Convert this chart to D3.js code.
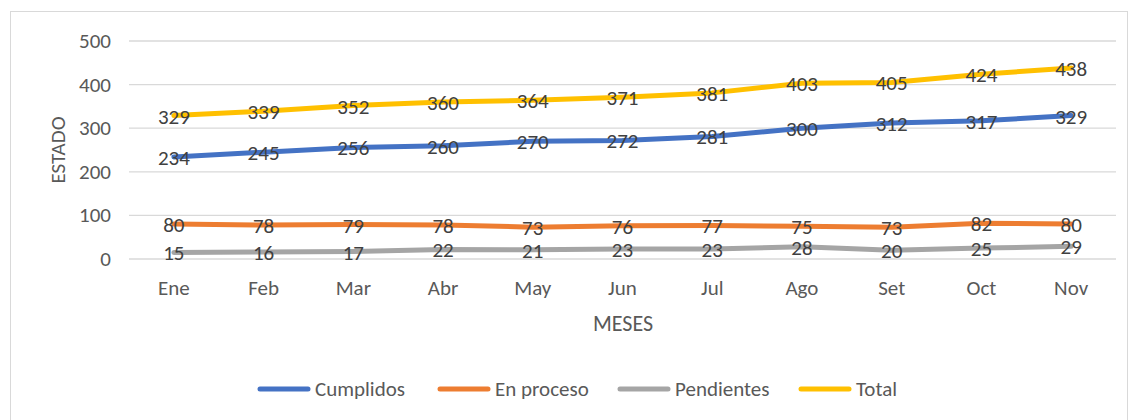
<!DOCTYPE html>
<html>
<head>
<meta charset="utf-8">
<script src="https://cdn.jsdelivr.net/npm/d3@7"></script>
<style>
  body { margin: 0; background: #fff; }
  svg { display: block; }
</style>
</head>
<body>
<script>
const meses = ["Ene", "Feb", "Mar", "Abr", "May", "Jun", "Jul", "Ago", "Set", "Oct", "Nov"];
const cumplidos = [234, 245, 256, 260, 270, 272, 281, 300, 312, 317, 329];
const enProceso = [80, 78, 79, 78, 73, 76, 77, 75, 73, 82, 80];
const pendientes = [15, 16, 17, 22, 21, 23, 23, 28, 20, 25, 29];
const total = [329, 339, 352, 360, 364, 371, 381, 403, 405, 424, 438];
const yTicks = [0, 100, 200, 300, 400, 500];

const series = [
  { name: "Cumplidos", values: cumplidos, color: "#4472C4" },
  { name: "En proceso", values: enProceso, color: "#ED7D31" },
  { name: "Pendientes", values: pendientes, color: "#A5A5A5" },
  { name: "Total", values: total, color: "#FFC000" },
];

const width = 1130;
const height = 420;
const font = "Carlito, Calibri, Lato, sans-serif";

const svg = d3
  .select("body")
  .append("svg")
  .attr("width", width)
  .attr("height", height);

svg
  .append("rect")
  .attr("x", 10.5)
  .attr("y", 11.5)
  .attr("width", 1117)
  .attr("height", 420)
  .attr("fill", "#fff")
  .attr("stroke", "#d9d9d9");

const xScale = d3.scaleBand().domain(meses).range([129, 1116]);
const yScale = d3.scaleLinear().domain([0, 500]).range([259, 41]);
const cx = (m) => xScale(m) + xScale.bandwidth() / 2;

// gridlines
svg
  .append("g")
  .selectAll("line")
  .data(yTicks)
  .enter()
  .append("line")
  .attr("x1", 129)
  .attr("x2", 1116)
  .attr("y1", (d) => yScale(d))
  .attr("y2", (d) => yScale(d))
  .attr("stroke", "#d9d9d9")
  .attr("stroke-width", 1.3);

// y tick labels
svg
  .append("g")
  .selectAll("text")
  .data(yTicks)
  .enter()
  .append("text")
  .attr("x", 111)
  .attr("y", (d) => yScale(d))
  .attr("text-anchor", "end")
  .attr("dominant-baseline", "central")
  .attr("fill", "#595959")
  .attr("font-family", font)
  .attr("font-size", 21)
  .text((d) => d);

// x tick labels
svg
  .append("g")
  .selectAll("text")
  .data(meses)
  .enter()
  .append("text")
  .attr("x", (d) => cx(d))
  .attr("y", 288)
  .attr("text-anchor", "middle")
  .attr("dominant-baseline", "central")
  .attr("fill", "#595959")
  .attr("font-family", font)
  .attr("font-size", 21)
  .text((d) => d);

// axis titles
svg
  .append("text")
  .attr("x", 623)
  .attr("y", 323)
  .attr("text-anchor", "middle")
  .attr("dominant-baseline", "central")
  .attr("fill", "#595959")
  .attr("font-family", font)
  .attr("font-size", 22)
  .text("MESES");

svg
  .append("text")
  .attr("transform", "translate(58 150) rotate(-90)")
  .attr("text-anchor", "middle")
  .attr("dominant-baseline", "central")
  .attr("fill", "#595959")
  .attr("font-family", font)
  .attr("font-size", 21)
  .text("ESTADO");

const line = d3
  .line()
  .x((_, i) => cx(meses[i]))
  .y((d) => yScale(d));

const seriesGroups = svg
  .append("g")
  .selectAll("g")
  .data(series)
  .enter()
  .append("g");

seriesGroups
  .append("path")
  .attr("d", (d) => line(d.values))
  .attr("fill", "none")
  .attr("stroke", (d) => d.color)
  .attr("stroke-width", 5)
  .attr("stroke-linejoin", "round")
  .attr("stroke-linecap", "round");

// data labels, centred on the points like the original
const labelGroup = svg.append("g");
series.forEach((s) => {
  labelGroup
    .append("g")
    .selectAll("text")
    .data(s.values)
    .enter()
    .append("text")
    .attr("x", (_, i) => cx(meses[i]))
    .attr("y", (d) => yScale(d) + 1)
    .attr("text-anchor", "middle")
    .attr("dominant-baseline", "central")
    .attr("fill", "#404040")
    .attr("font-family", font)
    .attr("font-size", 21)
    .text((d) => d);
});

// legend
const legendX = [258, 438, 618, 799];
const legend = svg
  .append("g")
  .selectAll("g")
  .data(series)
  .enter()
  .append("g")
  .attr("transform", (_, i) => `translate(${legendX[i]} 389)`);

legend
  .append("line")
  .attr("x1", 2)
  .attr("x2", 50)
  .attr("stroke", (d) => d.color)
  .attr("stroke-width", 5)
  .attr("stroke-linecap", "round");

legend
  .append("text")
  .attr("x", 57)
  .attr("dominant-baseline", "central")
  .attr("fill", "#595959")
  .attr("font-family", font)
  .attr("font-size", 21)
  .text((d) => d.name);
</script>
</body>
</html>
